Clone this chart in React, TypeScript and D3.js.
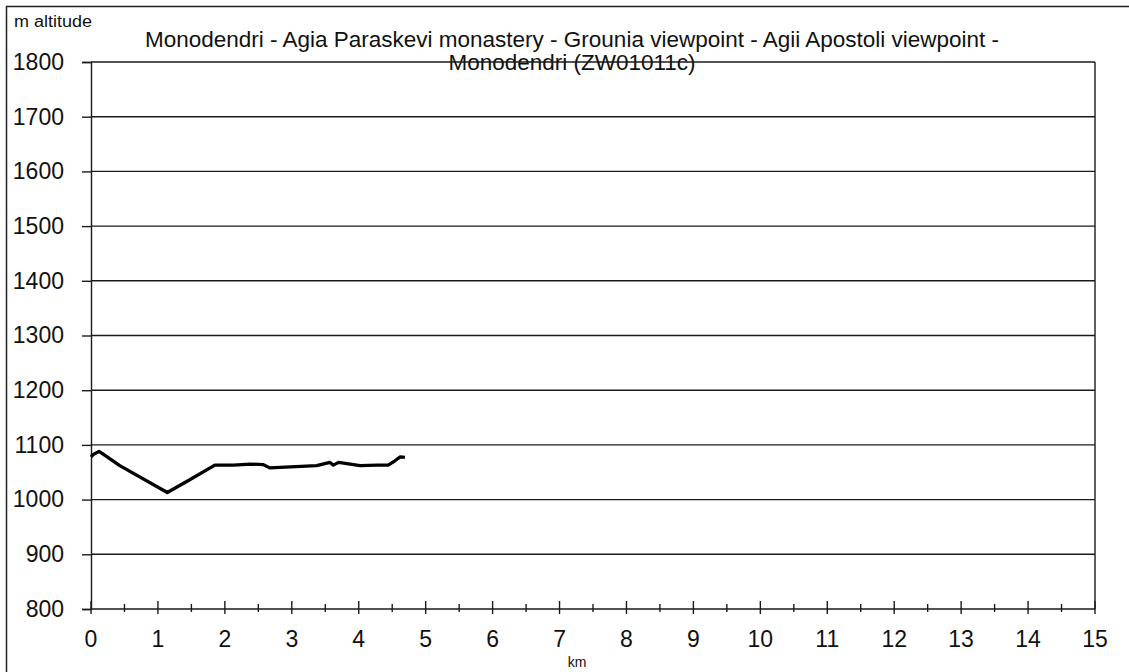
import React, { useEffect, useRef } from "react";
import * as d3 from "d3";

// route profile (km, m)
const distances = [0, 0.04, 0.12, 0.16, 0.43, 1.14, 1.43, 1.85, 2.13, 2.38, 2.57, 2.67, 3.37, 3.57, 3.62, 3.7, 4.02, 4.27, 4.44, 4.54, 4.62, 4.69];
const altitudes = [1078, 1083, 1088, 1085, 1062, 1013, 1033, 1063, 1063, 1065, 1064, 1058, 1062, 1068, 1063, 1068, 1062, 1063, 1063, 1071, 1078, 1077];

const yTicks = [800, 900, 1000, 1100, 1200, 1300, 1400, 1500, 1600, 1700, 1800];
const xTicks = [0, 1, 2, 3, 4, 5, 6, 7, 8, 9, 10, 11, 12, 13, 14, 15];
const xMinorTicks = [0.5, 1.5, 2.5, 3.5, 4.5, 5.5, 6.5, 7.5, 8.5, 9.5, 10.5, 11.5, 12.5, 13.5, 14.5];

const titleLines = [
  "Monodendri - Agia Paraskevi monastery - Grounia viewpoint - Agii Apostoli viewpoint -",
  "Monodendri (ZW01011c)",
];

const App = () => {
  const chartRef = useRef<SVGSVGElement>(null);

  useEffect(() => {
    drawChart();
  }, []);

  const drawChart = () => {
    const svg = d3.select(chartRef.current);
    svg.selectAll("*").remove();

    const width = 1129;
    const height = 672;
    const font = "Arial, 'Liberation Sans', sans-serif";

    const x = d3.scaleLinear().domain([0, 15]).range([91, 1095]);
    const y = d3.scaleLinear().domain([800, 1800]).range([609, 62]);

    svg.append("rect")
      .attr("width", width)
      .attr("height", height)
      .attr("fill", "white");

    // outer frame (only top and left are visible in the original crop)
    svg.append("rect")
      .attr("x", 6.5)
      .attr("y", 6.5)
      .attr("width", width + 20)
      .attr("height", height + 20)
      .attr("fill", "none")
      .attr("stroke", "#222")
      .attr("stroke-width", 1.5);

    // title
    const title = svg.append("text")
      .attr("text-anchor", "middle")
      .style("font-family", font)
      .style("font-size", "22.5px")
      .attr("fill", "#111");
    title.append("tspan").attr("x", 572).attr("y", 47).text(titleLines[0]);
    title.append("tspan").attr("x", 572).attr("y", 70).text(titleLines[1]);

    svg.append("text")
      .attr("x", 14)
      .attr("y", 27)
      .attr("textLength", 78)
      .attr("lengthAdjust", "spacingAndGlyphs")
      .style("font-family", font)
      .style("font-size", "16px")
      .attr("fill", "#111")
      .text("m altitude");

    // horizontal gridlines
    svg.append("g")
      .selectAll("line")
      .data(yTicks)
      .enter()
      .append("line")
      .attr("x1", x(0))
      .attr("x2", x(15))
      .attr("y1", d => y(d))
      .attr("y2", d => y(d))
      .attr("stroke", "#1a1a1a")
      .attr("stroke-width", 1.4);

    // y axis
    const yAxis = svg.append("g")
      .attr("transform", `translate(${x(0)},0)`)
      .call(d3.axisLeft(y).tickValues(yTicks).tickSize(9).tickPadding(18).tickFormat(d3.format("d")));
    yAxis.select(".domain").attr("stroke", "#1a1a1a").attr("stroke-width", 1.4);
    yAxis.selectAll(".tick line").attr("stroke", "#1a1a1a").attr("stroke-width", 1.4);
    yAxis.selectAll(".tick text")
      .style("font-family", font)
      .style("font-size", "23px")
      .attr("fill", "#111");

    // right frame line
    svg.append("line")
      .attr("x1", x(15))
      .attr("x2", x(15))
      .attr("y1", y(1800))
      .attr("y2", y(800))
      .attr("stroke", "#1a1a1a")
      .attr("stroke-width", 1.4);

    // x axis ticks crossing the axis
    const xg = svg.append("g");
    xg.selectAll(".major")
      .data(xTicks)
      .enter()
      .append("line")
      .attr("x1", d => x(d))
      .attr("x2", d => x(d))
      .attr("y1", y(800) - 8)
      .attr("y2", y(800) + 5)
      .attr("stroke", "#1a1a1a")
      .attr("stroke-width", 1.4);
    xg.selectAll(".minor")
      .data(xMinorTicks)
      .enter()
      .append("line")
      .attr("x1", d => x(d))
      .attr("x2", d => x(d))
      .attr("y1", y(800) - 5)
      .attr("y2", y(800) + 3)
      .attr("stroke", "#1a1a1a")
      .attr("stroke-width", 1.4);
    xg.selectAll("text")
      .data(xTicks)
      .enter()
      .append("text")
      .attr("x", d => x(d))
      .attr("y", 647)
      .attr("text-anchor", "middle")
      .style("font-family", font)
      .style("font-size", "23px")
      .attr("fill", "#111")
      .text(d => d);

    svg.append("text")
      .attr("x", 577)
      .attr("y", 667)
      .attr("text-anchor", "middle")
      .style("font-family", font)
      .style("font-size", "14px")
      .attr("fill", "#111")
      .text("km");

    // profile line
    const line = d3.line<number>()
      .x((d, i) => x(distances[i]))
      .y(d => y(d));

    svg.append("path")
      .datum(altitudes)
      .attr("d", line)
      .attr("fill", "none")
      .attr("stroke", "black")
      .attr("stroke-width", 3.3)
      .attr("stroke-linejoin", "round");
  };

  return (
    <svg
      ref={chartRef}
      width={1129}
      height={672}
      style={{ position: "absolute", left: 0, top: 0, display: "block" }}
    />
  );
};

export default App;
